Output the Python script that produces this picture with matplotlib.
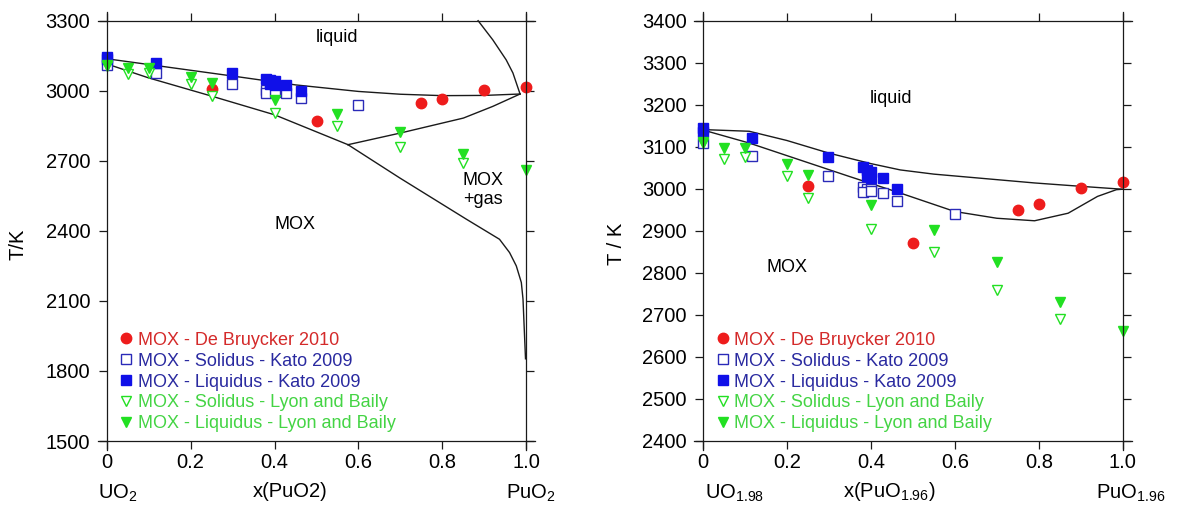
import matplotlib

matplotlib.use("Agg")
import matplotlib.pyplot as plt
import numpy as np

plt.rcParams["font.family"] = ["Liberation Sans", "DejaVu Sans"]
plt.rcParams["mathtext.fontset"] = "custom"
plt.rcParams["mathtext.rm"] = "Liberation Sans"
plt.rcParams["mathtext.it"] = "Liberation Sans:italic"

# ---- measured data (both panels share the same experimental points) ----
bruycker_x = [0.25, 0.5, 0.75, 0.8, 0.9, 1.0]
bruycker_t = [3007, 2872, 2949, 2964, 3003, 3017]

kato_sol_x = [0.0, 0.117, 0.298, 0.38, 0.39, 0.40, 0.38, 0.40, 0.428, 0.463, 0.6]
kato_sol_t = [3110, 3078, 3030, 3005, 3000, 3000, 2992, 2995, 2990, 2970, 2940]

kato_liq_x = [0.0, 0.0, 0.117, 0.298, 0.38, 0.39, 0.40, 0.39, 0.40, 0.428, 0.463]
kato_liq_t = [3145, 3135, 3120, 3075, 3052, 3045, 3040, 3030, 3026, 3026, 2999]

lyon_sol_x = [0.0, 0.05, 0.1, 0.2, 0.25, 0.4, 0.55, 0.7, 0.85]
lyon_sol_t = [3108, 3070, 3075, 3030, 2978, 2905, 2850, 2760, 2690]

lyon_liq_x = [0.0, 0.05, 0.1, 0.2, 0.25, 0.4, 0.55, 0.7, 0.85, 1.0]
lyon_liq_t = [3112, 3098, 3097, 3060, 3033, 2961, 2901, 2825, 2731, 2661]

# ---- calculated phase boundaries, left panel (UO2-PuO2) ----
left_liq_x = [0.0, 0.3, 0.45, 0.6, 0.7, 0.8, 0.9, 0.985]
left_liq_t = [3137, 3063, 3025, 2997, 2985, 2979, 2980, 2986]
left_sol_x = [0.0, 0.1, 0.25, 0.4, 0.575]
left_sol_t = [3115, 3055, 2977, 2897, 2769]
left_gas_low_x = [0.575, 0.7, 0.85, 0.92, 0.985]
left_gas_low_t = [2769, 2819, 2883, 2933, 2986]
left_mox_x = [0.575, 0.698, 0.857, 0.936, 0.96, 0.976, 0.988, 0.992, 0.998]
left_mox_t = [2769, 2627, 2450, 2364, 2307, 2250, 2179, 2108, 1852]
left_gas_top_x = [0.885, 0.92, 0.952, 0.968, 0.985]
left_gas_top_t = [3300, 3218, 3132, 3076, 2986]

# ---- calculated phase boundaries, right panel (UO1.98-PuO1.96) ----
right_liq_x = [0.0, 0.11, 0.2, 0.3, 0.4, 0.47, 0.55, 0.63, 0.79, 0.9, 1.0]
right_liq_t = [3141, 3137, 3115, 3085, 3060, 3045, 3035, 3028, 3014, 3006, 2999]
right_sol_x = [0.0, 0.11, 0.23, 0.35, 0.47, 0.6, 0.7, 0.79, 0.87, 0.94, 0.985, 1.0]
right_sol_t = [3140, 3109, 3069, 3029, 2990, 2946, 2930, 2924, 2942, 2982, 2998, 2999]

x_ticks = [0.0, 0.2, 0.4, 0.6, 0.8, 1.0]
x_tick_labels = ["0", "0.2", "0.4", "0.6", "0.8", "1.0"]
left_y_ticks = [1500, 1800, 2100, 2400, 2700, 3000, 3300]
right_y_ticks = [2400, 2500, 2600, 2700, 2800, 2900, 3000, 3100, 3200, 3300, 3400]

legend_labels = [
    "MOX - De Bruycker 2010",
    "MOX - Solidus - Kato 2009",
    "MOX - Liquidus - Kato 2009",
    "MOX - Solidus - Lyon and Baily",
    "MOX - Liquidus - Lyon and Baily",
]

RED = "#ee1c1c"
BLUE = "#1010e8"
BLUE_OPEN = "#2a2ab8"
GREEN = "#22e022"
TEXT_COLORS = ["#d42a2a", "#2a2aa0", "#2a2aa0", "#44d444", "#44d444"]
LINE = "#1a1a1a"


def draw_points(axis):
    axis.plot(bruycker_x, bruycker_t, "o", color=RED, markersize=7.5,
              linestyle="none", label=legend_labels[0])
    axis.plot(kato_sol_x, kato_sol_t, "s", markerfacecolor="white",
              markeredgecolor=BLUE_OPEN, markeredgewidth=1.0, markersize=7.5,
              linestyle="none", label=legend_labels[1])
    axis.plot(kato_liq_x, kato_liq_t, "s", color=BLUE, markersize=7.5,
              markeredgecolor=BLUE, linestyle="none", label=legend_labels[2])
    axis.plot(lyon_sol_x, lyon_sol_t, "v", markerfacecolor="white",
              markeredgecolor=GREEN, markeredgewidth=1.0, markersize=7.5,
              linestyle="none", label=legend_labels[3])
    axis.plot(lyon_liq_x, lyon_liq_t, "v", color=GREEN, markersize=7.5,
              linestyle="none", label=legend_labels[4])


def style_axis(axis, y_min, y_max, y_ticks, pad_y):
    pad_x = 0.0214
    axis.set_xlim(-pad_x, 1.0 + pad_x)
    axis.set_ylim(y_min - pad_y, y_max + pad_y)
    axis.spines["left"].set_position(("data", 0.0))
    axis.spines["right"].set_position(("data", 1.0))
    axis.spines["bottom"].set_position(("data", y_min))
    axis.spines["top"].set_position(("data", y_max))
    for spine in axis.spines.values():
        spine.set_linewidth(0.9)
        spine.set_color(LINE)
    axis.set_xticks(x_ticks)
    axis.set_xticklabels(x_tick_labels)
    axis.set_yticks(y_ticks)
    axis.tick_params(direction="out", length=5.8, width=0.9, color=LINE,
                     labelsize=14.5, top=True, right=True)
    axis.tick_params(axis="x", pad=3)
    axis.tick_params(axis="y", pad=6)

    legend = axis.legend(
        loc="lower left",
        bbox_to_anchor=(0.053, 0.040),
        frameon=False,
        fontsize=13,
        handlelength=0.6,
        handletextpad=0.35,
        labelspacing=0.22,
        borderpad=0.0,
        borderaxespad=0.0,
        labelcolor=TEXT_COLORS,
    )
    return legend


figure = plt.figure(figsize=(11.87, 5.16), dpi=100)
ax_left = figure.add_axes([0.0823, 0.1279, 0.3687, 0.8494])
ax_right = figure.add_axes([0.5847, 0.1279, 0.3687, 0.8494])

# left panel
for xs, ts in [
    (left_liq_x, left_liq_t),
    (left_sol_x, left_sol_t),
    (left_gas_low_x, left_gas_low_t),
    (left_mox_x, left_mox_t),
    (left_gas_top_x, left_gas_top_t),
]:
    ax_left.plot(xs, ts, color=LINE, linewidth=1.0)
draw_points(ax_left)
style_axis(ax_left, 1500, 3300, left_y_ticks, 38.4)
ax_left.set_ylabel("T/K", fontsize=14.5)
ax_left.yaxis.set_label_coords(-0.16, 0.47)
ax_left.text(0.549, 3229, "liquid", fontsize=13, ha="center", va="center")
ax_left.text(0.448, 2428, "MOX", fontsize=13, ha="center", va="center")
ax_left.text(0.897, 2575, "MOX\n+gas", fontsize=13, ha="center", va="center",
             linespacing=1.2)

xt = ax_left.get_xaxis_transform()
ax_left.text(0.027, -0.1, "UO$_\\mathregular{2}$", fontsize=14.5, ha="center",
             va="center", transform=xt)
ax_left.text(0.436, -0.095, "x(PuO2)", fontsize=14.5, ha="center", va="center",
             transform=xt)
ax_left.text(1.01, -0.1, "PuO$_\\mathregular{2}$", fontsize=14.5, ha="center",
             va="center", transform=xt)

# right panel
for xs, ts in [(right_liq_x, right_liq_t), (right_sol_x, right_sol_t)]:
    ax_right.plot(xs, ts, color=LINE, linewidth=1.0)
draw_points(ax_right)
style_axis(ax_right, 2400, 3400, right_y_ticks, 21.5)
ax_right.set_ylabel("T / K", fontsize=14.5)
ax_right.yaxis.set_label_coords(-0.155, 0.47)
ax_right.text(0.449, 3214, "liquid", fontsize=13, ha="center", va="center")
ax_right.text(0.2, 2813, "MOX", fontsize=13, ha="center", va="center")

xt = ax_right.get_xaxis_transform()
ax_right.text(0.075, -0.1, "UO$_\\mathregular{1.98}$", fontsize=14.5,
              ha="center", va="center", transform=xt)
ax_right.text(0.445, -0.095, "x(PuO$_\\mathregular{1.96}$)", fontsize=14.5,
              ha="center", va="center", transform=xt)
ax_right.text(1.02, -0.1, "PuO$_\\mathregular{1.96}$", fontsize=14.5,
              ha="center", va="center", transform=xt)

figure.savefig("out.png", dpi=100)
plt.close(figure)
